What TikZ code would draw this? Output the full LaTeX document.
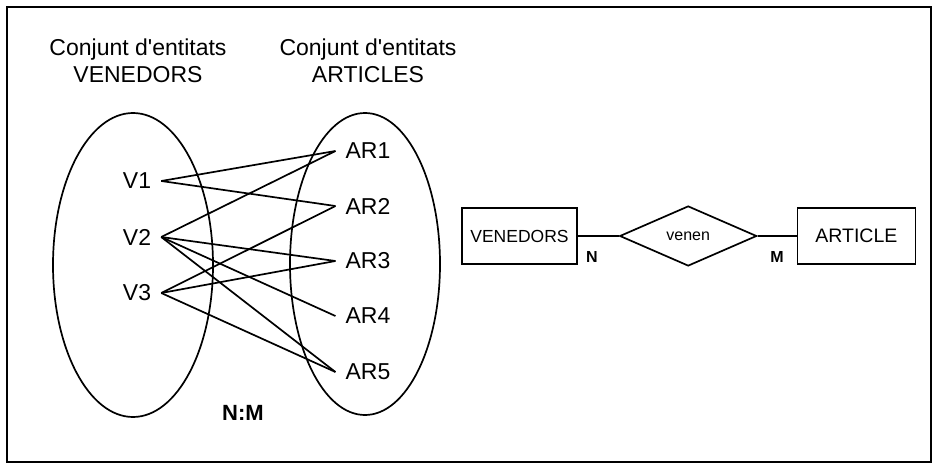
\documentclass[tikz,border=0pt]{standalone}
\usepackage{fontspec}
\setmainfont{Liberation Sans}
\usetikzlibrary{positioning, shapes.geometric}

\begin{document}
\begin{tikzpicture}[x=1pt, y=-1pt,
  node distance=42pt,
  set/.style={draw, line width=1.7pt},
  elem/.style={font=\fontsize{23}{23}\selectfont, inner xsep=10pt, inner ysep=2pt},
  title/.style={font=\fontsize{23}{27}\selectfont, align=center},
  entity/.style={draw, line width=1.7pt, minimum height=56pt, inner sep=0pt},
  rel/.style={draw, diamond, line width=1.7pt, minimum width=137pt, minimum height=60pt, inner sep=0pt, font=\fontsize{16}{16}\selectfont},
  card/.style={font=\bfseries\fontsize{16}{16}\selectfont},
  lnk/.style={line width=1.7pt}]
\useasboundingbox (0,0) rectangle (937,468);
\draw[line width=1.8pt] (7,7) rectangle (931,462);

% conjunts d'entitats
\node[title] (tven) at (138,61) {Conjunt d\textquotesingle entitats\\VENEDORS};
\node[title] (tart) at (368,61) {Conjunt d\textquotesingle entitats\\ARTICLES};
\draw[set] (133,265) ellipse [x radius=80, y radius=152];
\draw[set] (365,264) ellipse [x radius=75, y radius=151];

\foreach \i/\y in {1/181, 2/237, 3/293}
  \node[elem] (v\i) at (137,\y) {V\i};
\foreach \i/\y in {1/151, 2/206, 3/261, 4/316, 5/372}
  \node[elem] (ar\i) at (368,\y) {AR\i};
\foreach \a/\b in {1/1, 1/2, 2/1, 2/3, 2/4, 2/5, 3/2, 3/3, 3/5}
  \draw[lnk] (v\a.east) -- (ar\b.west);
\node[font=\bfseries\fontsize{22}{22}\selectfont] (nm) at (243,413) {N:M};

% diagrama ER
\node[entity, minimum width=115pt, font=\fontsize{17.5}{17.5}\selectfont] (ven) at (519.5,236) {VENEDORS};
\node[rel, right=41pt of ven] (venen) {venen};
\node[entity, minimum width=118pt, right=39pt of venen, font=\fontsize{19.5}{19.5}\selectfont] (art) {ARTICLE};
\draw[lnk] (ven) -- (venen);
\draw[lnk] (venen) -- (art);
\node[card] (n) at (592,257) {N};
\node[card] (m) at (777,257) {M};
\end{tikzpicture}
\end{document}
